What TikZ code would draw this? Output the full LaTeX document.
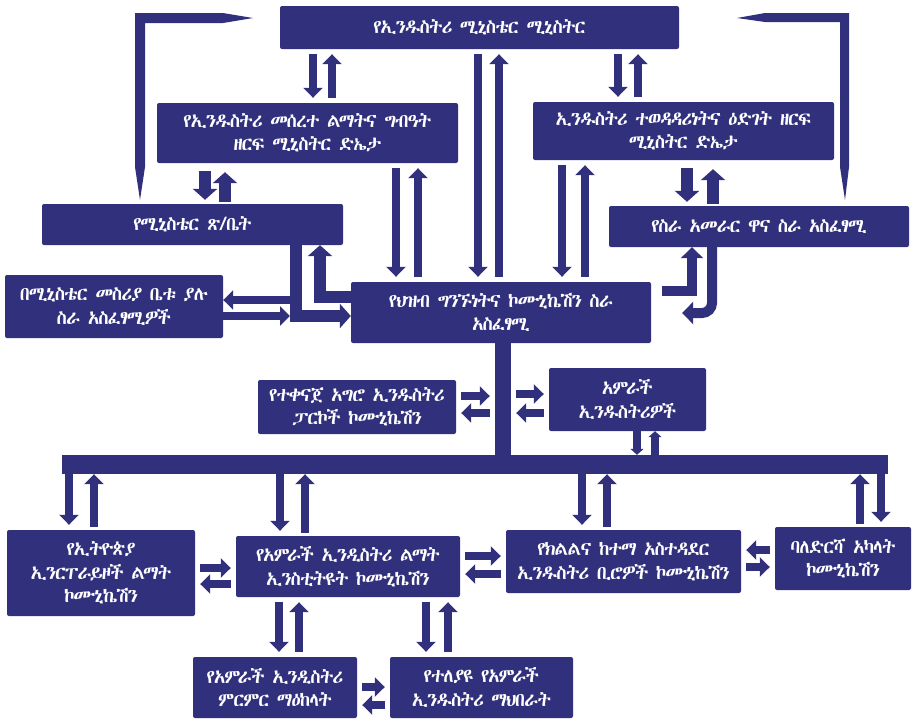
\documentclass[tikz,border=0pt]{standalone}
\usepackage{fontspec}
\IfFontExistsTF{Abyssinica SIL}{\newfontfamily\eth[LetterSpace=-6]{Abyssinica SIL}}{%
  \IfFontExistsTF{FreeSerif}{\newfontfamily\eth[LetterSpace=-6]{FreeSerif}}{%
    \IfFontExistsTF{FreeSerif.otf}{\newfontfamily\eth[LetterSpace=-6]{FreeSerif.otf}}{\newfontfamily\eth{DejaVu Sans}}}}
\usetikzlibrary{arrows.meta}
\definecolor{navy}{RGB}{49,48,124}
\tikzset{
  box/.style={fill=navy, text=white, rounded corners=2pt, align=center, inner sep=2pt,
    font=\eth\fontsize{19}{23.5}\selectfont},
  bar/.style={fill=navy, inner sep=0pt},
  arr/.style={navy, line width=8pt, -{Triangle[length=10pt,width=19pt]}, shorten <=5pt, shorten >=5pt},
  fat/.style={navy, line width=12pt, line join=miter, -{Triangle[length=11pt,width=24pt]}},
  mid/.style={navy, line width=10pt, line join=miter, -{Triangle[length=11pt,width=22pt]}}
}
\begin{document}
\begin{tikzpicture}[x=1pt, y=-1pt]
  \useasboundingbox (0,0) rectangle (913,718);
  % boxes
  \node[box, minimum width=399, minimum height=43] (top) at (479.5,27.5) {የኢንዱስትሪ ሚኒስቴር ሚኒስትር};
  \node[box, minimum width=301, minimum height=60] (infra) at (307.5,133) {የኢንዱስትሪ መሰረተ ልማትና ግብዓት\\ዘርፍ ሚኒስትር ድኤታ};
  \node[box, minimum width=301, minimum height=58] (comp) at (683.5,131) {ኢንዱስትሪ ተወዳዳሪነትና ዕድገት ዘርፍ\\ሚኒስትር ድኤታ};
  \node[box, minimum width=301, minimum height=41] (ofc) at (192.5,224.5) {የሚኒስቴር ጽ/ቤት};
  \node[box, minimum width=300, minimum height=41] (chief) at (759,226.5) {የስራ አመራር ዋና ስራ አስፈፃሚ};
  \node[box, minimum width=218, minimum height=63] (exec) at (114,306.5) {በሚኒስቴር መስሪያ ቤቱ ያሉ\\ስራ አስፈፃሚዎች};
  \node[box, minimum width=300, minimum height=61] (hub) at (501,312.5) {የህዝብ ግንኙነትና ኮሙኒኬሽን ስራ\\አስፈፃሚ};
  \node[box, minimum width=198, minimum height=54] (park) at (357,407) {የተቀናጀ አግሮ ኢንዱስትሪ\\ፓርኮች ኮሙኒኬሽን};
  \node[box, minimum width=157, minimum height=63] (makers) at (627.5,399.5) {አምራች\\ኢንዱስትሪዎች};
  \node[bar, minimum width=16, minimum height=112] (trunk) at (503,399) {};
  \node[bar, minimum width=826, minimum height=19] (bus) at (475,464.5) {};
  \node[box, minimum width=188, minimum height=86] (enter) at (101,573) {የኢትዮጵያ\\ኢንርፐራይዞች ልማት\\ኮሙኒኬሽን};
  \node[box, minimum width=224, minimum height=61] (inst) at (348,566.5) {የአምራች ኢንዲስትሪ ልማት\\ኢንስቲትዩት ኮሙኒኬሽን};
  \node[box, minimum width=235, minimum height=63] (region) at (623.5,561.5) {የክልልና ከተማ አስተዳደር\\ኢንዱስትሪ ቢሮዎች ኮሙኒኬሽን};
  \node[box, minimum width=136, minimum height=63] (stake) at (843,558.5) {ባለድርሻ አካላት\\ኮሙኒኬሽን};
  \node[box, minimum width=164, minimum height=61] (research) at (275,687.5) {የአምራች ኢንዲስትሪ\\ምርምር ማዕከላት};
  \node[box, minimum width=183, minimum height=61] (assoc) at (481.5,687.5) {የተለያዩ የአምራች\\ኢንዱስትሪ ማህበራት};

  % vertical pairs
  \foreach \a/\b/\xd/\xu in {top/infra/313/332, top/comp/618/638, top/hub/478/499,
      infra/hub/396/418, comp/hub/562/585, inst/research/279/299, inst/assoc/426/448} {
    \draw[arr] (\a.south -| \xd,0) -- (\b.north -| \xd,0);
    \draw[arr] (\b.north -| \xu,0) -- (\a.south -| \xu,0);
  }
  \foreach \a/\b/\xd/\xu in {infra/ofc/205/225, comp/chief/687/713} {
    \draw[fat, shorten <=8pt, shorten >=4pt] (\a.south -| \xd,0) -- (\b.north -| \xd,0);
    \draw[fat, shorten <=2pt, shorten >=9pt] (\b.north -| \xu,0) -- (\a.south -| \xu,0);
  }
  \foreach \b/\xd/\xu in {enter/69/94, inst/280/305, region/582/607, stake/881/860} {
    \draw[arr, shorten <=0pt] (bus.south -| \xd,0) -- (\b.north -| \xd,0);
    \draw[arr, shorten <=3pt, shorten >=0pt] (\b.north -| \xu,0) -- (bus.south -| \xu,0);
  }
  \draw[arr, -{Triangle[length=6pt,width=13pt]}, shorten <=0pt, shorten >=0pt] (makers.south -| 637,0) -- (bus.north -| 637,0);
  \draw[arr, -{Triangle[length=6pt,width=13pt]}, shorten <=0pt, shorten >=0pt] (bus.north -| 655,0) -- (makers.south -| 655,0);

  % horizontal pairs
  \foreach \l/\r/\yr/\yl in {enter/inst/568/584, inst/region/556/574, research/assoc/687/705,
      region/stake/567/550, park/trunk/396/413, trunk/makers/394/413} {
    \draw[arr] (\l.east |- 0,\yr) -- (\r.west |- 0,\yr);
    \draw[arr] (\r.west |- 0,\yl) -- (\l.east |- 0,\yl);
  }

  % bent links
  \coordinate (elbow) at (290,316);
  \draw[fat] (ofc.south -| 296,0) |- (hub.west |- 0,316);
  \draw[fat] (hub.west |- 0,297) -| (ofc.south -| 320,0);
  \draw[arr, shorten <=0pt, shorten >=0pt] (elbow |- 0,300) -- (exec.east |- 0,300);
  \draw[arr, shorten <=0pt, shorten >=0pt] (exec.east |- 0,316) -- (elbow);
  \draw[mid, shorten <=11pt] (hub.east |- 0,291) -| (chief.south -| 692,0);
  \draw[mid, rounded corners=10pt, shorten >=31pt] (chief.south -| 712,0) |- (hub.east |- 0,313);
  % tapered links
  \fill[navy] (253,18) -- (223,13) -- (135,13) -- (135,167) -- (140,200) -- (145,167) -- (145,23) -- (223,23) -- cycle;
  \fill[navy] (737,18) -- (765,13) -- (849,13) -- (849,167) -- (845,200) -- (840,167) -- (840,22) -- (765,22) -- cycle;
\end{tikzpicture}
\end{document}
